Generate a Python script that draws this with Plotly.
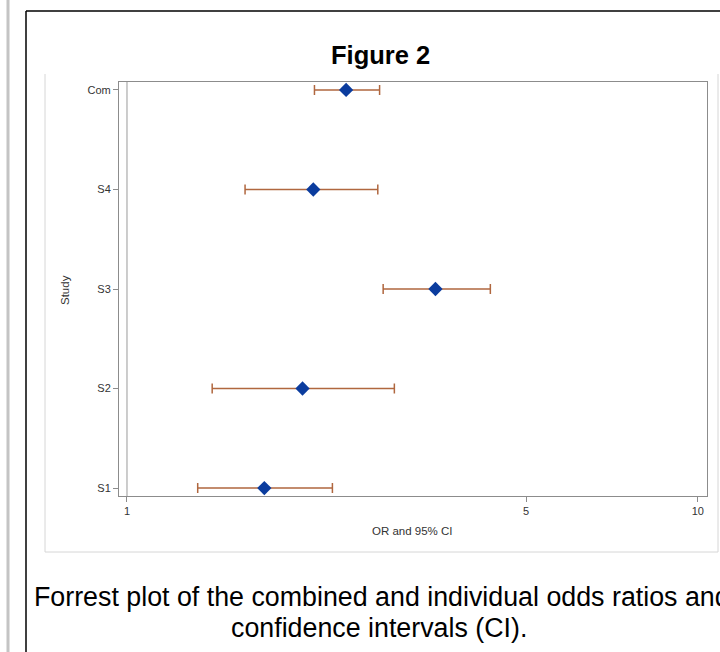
import plotly.graph_objects as go

# ---- data ----
studies = ["S1", "S2", "S3", "S4", "Com"]
odds_ratio = [1.74, 2.03, 3.47, 2.12, 2.42]
ci_lower = [1.33, 1.41, 2.81, 1.61, 2.13]
ci_upper = [2.29, 2.94, 4.33, 2.75, 2.77]
x_ticks = [1, 5, 10]
x_tick_labels = ["1", "5", "10"]

W, H = 720, 652


def px(x):
    return x / W


def py(y):
    return 1 - y / H


positions = list(range(len(studies)))
err_plus = [u - o for u, o in zip(ci_upper, odds_ratio)]
err_minus = [o - l for o, l in zip(odds_ratio, ci_lower)]

fig = go.Figure()

# reference line at OR = 1
fig.add_trace(go.Scatter(
    x=[1, 1], y=[-0.08, 4.08], mode="lines",
    line=dict(color="#9a9a9a", width=1), hoverinfo="skip", showlegend=False,
))

fig.add_trace(go.Scatter(
    x=odds_ratio, y=positions, mode="markers",
    marker=dict(symbol="diamond", size=11, color="#0b3c9e"),
    error_x=dict(type="data", symmetric=False, array=err_plus, arrayminus=err_minus,
                 color="#b0673f", thickness=1.5, width=5),
    showlegend=False,
))

axis_col = "#8c8c8c"
fig.update_layout(
    width=W, height=H,
    margin=dict(l=0, r=0, t=0, b=0),
    paper_bgcolor="white", plot_bgcolor="white",
    font=dict(family="Arial, Liberation Sans, sans-serif", color="#333333"),
    xaxis=dict(
        type="log", range=[-0.014, 1.016],
        domain=[px(119), px(707)],
        tickvals=x_ticks, ticktext=x_tick_labels,
        ticks="outside", ticklen=5, tickcolor=axis_col, tickwidth=1,
        showline=True, linecolor=axis_col, linewidth=1, mirror=True,
        showgrid=False, zeroline=False,
        tickfont=dict(size=11, color="#333333"),
    ),
    yaxis=dict(
        range=[-0.08, 4.08],
        domain=[py(496), py(82)],
        tickvals=positions, ticktext=studies,
        ticks="outside", ticklen=5, tickcolor=axis_col, tickwidth=1,
        showline=True, linecolor=axis_col, linewidth=1, mirror=True,
        showgrid=False, zeroline=False,
        tickfont=dict(size=11, color="#333333"),
    ),
    shapes=[
        # left gray page bar
        dict(type="line", xref="paper", yref="paper", x0=px(8), x1=px(8), y0=0, y1=1,
             line=dict(color="#c4c4c4", width=3)),
        # outer black frame
        dict(type="line", xref="paper", yref="paper", x0=px(26), x1=px(26), y0=-0.01, y1=py(11),
             line=dict(color="black", width=1.5)),
        dict(type="line", xref="paper", yref="paper", x0=px(26), x1=1.01, y0=py(11), y1=py(11),
             line=dict(color="black", width=1.5)),
        # image light border
        dict(type="line", xref="paper", yref="paper", x0=px(45), x1=px(45), y0=py(552), y1=py(74),
             line=dict(color="#d6d6d6", width=1)),
        dict(type="line", xref="paper", yref="paper", x0=px(718), x1=px(718), y0=py(552), y1=py(74),
             line=dict(color="#d6d6d6", width=1)),
        dict(type="line", xref="paper", yref="paper", x0=px(45), x1=px(718), y0=py(552), y1=py(552),
             line=dict(color="#d6d6d6", width=1)),
    ],
    annotations=[
        dict(text="<b>Figure 2</b>", xref="paper", yref="paper", x=px(380), y=py(55),
             showarrow=False, font=dict(size=25.5, color="black"), xanchor="center", yanchor="middle"),
        dict(text="Study", xref="paper", yref="paper", x=px(65), y=py(290), textangle=-90,
             showarrow=False, font=dict(size=11.5, color="#333333"), xanchor="center", yanchor="middle"),
        dict(text="OR and 95% CI", xref="paper", yref="paper", x=px(412), y=py(531),
             showarrow=False, font=dict(size=11.5, color="#333333"), xanchor="center", yanchor="middle"),
        dict(text="Forrest plot of the combined and individual odds ratios and", xref="paper", yref="paper",
             x=px(32), y=py(597), showarrow=False, font=dict(size=26.8, color="black"),
             xanchor="left", yanchor="middle"),
        dict(text="confidence intervals (CI).", xref="paper", yref="paper",
             x=px(379), y=py(628), showarrow=False, font=dict(size=26.8, color="black"),
             xanchor="center", yanchor="middle"),
    ],
)

fig.write_html(
    "out.html",
    config={"displayModeBar": False},
    post_script="document.body.style.margin='0';document.body.style.padding='0';"
                "document.body.style.overflow='hidden';",
)
